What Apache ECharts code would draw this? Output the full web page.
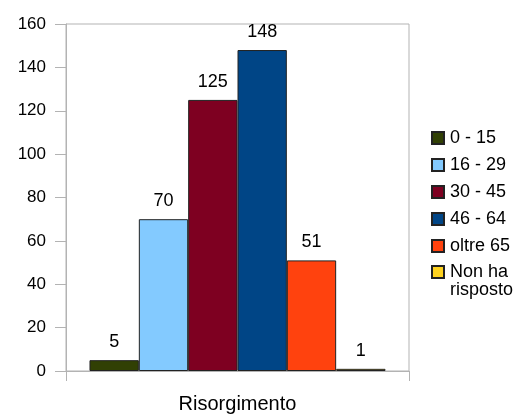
<!DOCTYPE html>
<html><head><meta charset="utf-8">
<script src="https://cdn.jsdelivr.net/npm/echarts@6/dist/echarts.min.js"></script>
<style>html,body{margin:0;padding:0;background:#fff}#c{width:521px;height:415px}</style>
</head><body><div id="c"></div>
<script>
var categories = ['Risorgimento'];
var seriesNames = ['0 - 15', '16 - 29', '30 - 45', '46 - 64', 'oltre 65', 'Non ha\nrisposto'];
var values = [5, 70, 125, 148, 51, 1];
var colors = ['#314004', '#83caff', '#7e0021', '#004586', '#ff420e', '#ffd320'];
var yTicks = {min: 0, max: 160, interval: 20};

var FONT = '"Liberation Sans", Arial, sans-serif';
var chart = echarts.init(document.getElementById('c'), null, {renderer: 'canvas'});
var series = seriesNames.map(function (n, i) {
  return {
    name: n, type: 'bar', data: [values[i]],
    barGap: '0%', barCategoryGap: '13.7%',
    itemStyle: {color: colors[i], borderColor: '#222', borderWidth: 1},
    label: {show: true, position: 'top', distance: 9, color: '#000', fontSize: 18, fontFamily: FONT},
    emphasis: {disabled: true}
  };
});
var legendBase = {
  orient: 'vertical', left: 431, padding: 0, itemGap: 9,
  itemWidth: 12, itemHeight: 12, icon: 'rect',
  textStyle: {fontSize: 18, lineHeight: 18, color: '#000', fontFamily: FONT, padding: [0, 0, 0, 1]}
};
var legendA = Object.assign({}, legendBase, {
  top: 129,
  data: seriesNames.slice(0, seriesNames.length - 1)
});
var legendB = Object.assign({}, legendBase, {
  top: 245,
  formatter: function (name) { return '\n' + name; },
  data: seriesNames.slice(seriesNames.length - 1)
});
chart.setOption({
  animation: false,
  backgroundColor: '#fff',
  grid: {left: 66, top: 24, right: 112, bottom: 44, show: true, borderColor: '#b3b3b3', borderWidth: 1},
  legend: [legendA, legendB],
  xAxis: {
    type: 'category', data: categories,
    axisLine: {lineStyle: {color: '#b3b3b3'}},
    axisTick: {show: true, length: 10, lineStyle: {color: '#b3b3b3'}},
    axisLabel: {color: '#000', fontSize: 20, fontFamily: FONT, margin: 23}
  },
  yAxis: {
    type: 'value', min: yTicks.min, max: yTicks.max, interval: yTicks.interval,
    axisLine: {show: true, lineStyle: {color: '#b3b3b3'}},
    axisTick: {show: true, length: 11, lineStyle: {color: '#b3b3b3'}},
    splitLine: {show: false},
    axisLabel: {color: '#000', fontSize: 17, fontFamily: FONT, margin: 20}
  },
  series: series
});
</script></body></html>
